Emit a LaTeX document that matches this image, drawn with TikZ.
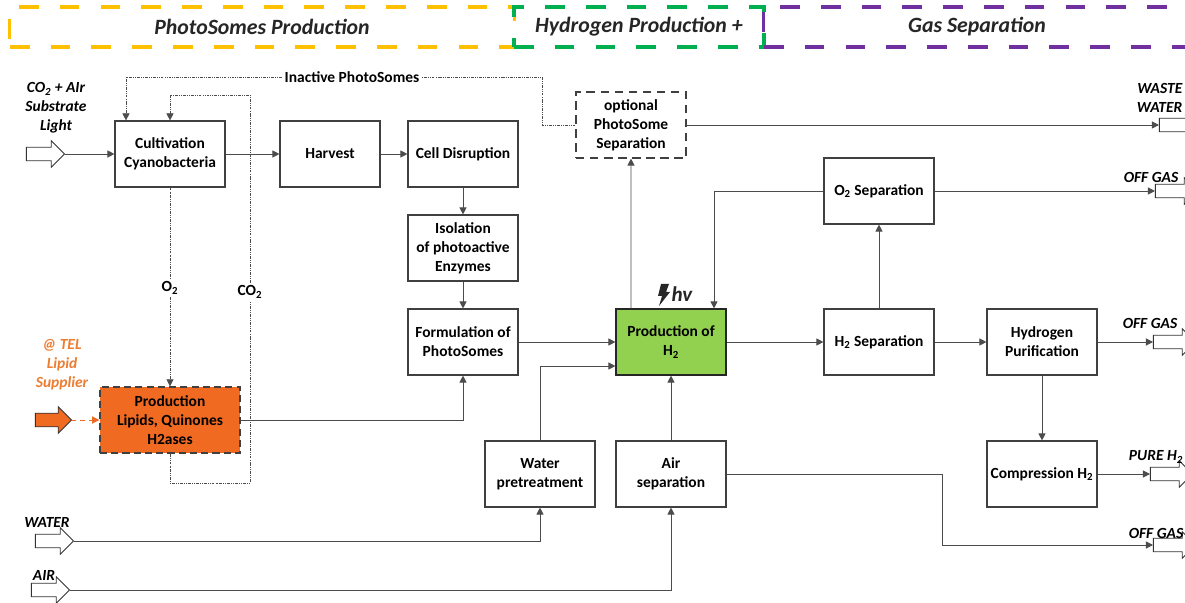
\documentclass[tikz,border=0pt]{standalone}
\usepackage{fontspec}
\setmainfont{Carlito}
\usepackage{tikz}
\usetikzlibrary{arrows.meta,shapes.arrows}
\definecolor{hyel}{RGB}{255,192,0}
\definecolor{hgrn}{RGB}{0,176,80}
\definecolor{hpur}{RGB}{112,48,160}
\definecolor{orng}{RGB}{240,106,34}
\definecolor{otxt}{RGB}{237,125,49}
\definecolor{lgrn}{RGB}{146,208,80}

\begin{document}
\begin{tikzpicture}[x=0.025cm,y=-0.025cm]

\tikzset{proc/.style = {draw=black!75, line width=0.8pt, fill=white, minimum width=2.75cm, minimum height=1.65cm, align=center, inner sep=1pt, font=\bfseries\fontsize{11}{13.5}\selectfont}}
\tikzset{edge/.style = {-{Triangle[length=5pt,width=5pt]}, draw=black!70, line width=0.7pt}}
\tikzset{recyc/.style = {draw=black!70, line width=0.5pt, dash pattern=on 2pt off 0.8pt on 0.6pt off 0.8pt on 0.6pt off 0.8pt}}
\tikzset{lbl/.style = {font=\bfseries\fontsize{11}{12}\selectfont, inner sep=2pt}}
\tikzset{ext/.style = {font=\bfseries\itshape\fontsize{11}{13.5}\selectfont, align=center, inner sep=1pt}}
\tikzset{inarr/.style = {single arrow, draw=black!80, fill=white, line width=0.6pt, inner xsep=0pt, inner ysep=0.16cm, single arrow head extend=0.16cm, minimum height=0.95cm}}
\tikzset{outarr/.style = {inarr, minimum height=1.05cm}}
\tikzset{hdr/.style = {line width=2.2pt, dash pattern=on 14pt off 15pt, minimum height=1cm, text=black!85, font=\bfseries\itshape\fontsize{15.5}{18}\selectfont}}
%\draw[help lines] (0,0) grid (1185,603);
\fill[white] (0,0) rectangle (1185,603);
\useasboundingbox (0,0) rectangle (1185,603);

\node[hdr, draw=hyel, minimum width=12.6cm] (t1) at (262,27) {PhotoSomes Production};
\node[hdr, draw=hgrn, minimum width=6.25cm] (t2) at (639,27) {Hydrogen Production +};
\node[hdr, draw=hpur, minimum width=10.65cm] (t3) at (977,27) {Gas Separation};

\node[proc] (cult) at (170,154) {Cultivation\\Cyanobacteria};
\node[proc, minimum width=2.5cm] (harv) at (330,154) {Harvest};
\node[proc] (disr) at (463,154) {Cell Disruption};
\node[proc] (isol) at (463,248) {Isolation\\of photoactive\\Enzymes};
\node[proc] (form) at (463,342) {Formulation of\\PhotoSomes};
\node[proc, fill=orng, dash pattern=on 5pt off 3pt, line width=1pt, minimum width=3.5cm] (lip) at (170,420) {Production\\Lipids, Quinones\\H2ases};
\node[proc, dash pattern=on 6pt off 4pt] (opt) at (631,125) {optional\\PhotoSome\\Separation};
\node[proc, fill=lgrn, draw=black!85] (hprod) at (671,342) {Production of\\H\textsubscript{2}};
\node[proc] (osep) at (879,191) {O\textsubscript{2} Separation};
\node[proc] (hsep) at (879,342) {H\textsubscript{2} Separation};
\node[proc] (puri) at (1042,342) {Hydrogen\\Purification};
\node[proc] (comp) at (1042,474) {Compression H\textsubscript{2}};
\node[proc] (wat) at (540,474) {Water\\pretreatment};
\node[proc] (air) at (671,474) {Air\\separation};

\node[inarr] (i1) at (42,154) {};
\node[ext] (l1) at (56,108) {CO\textsubscript{2} + AIr\\Substrate\\Light};
\node[inarr, fill=orng, minimum height=0.9cm] (i2) at (50,420) {};
\node[ext, text=otxt] (l2) at (62,365) {@ TEL\\Lipid\\Supplier};
\node[inarr] (i3) at (51,541) {};
\node[ext] (l3) at (47,522) {WATER};
\node[inarr] (i4) at (47,590) {};
\node[ext] (l4) at (44,575) {AIR};

\node[outarr] (o1) at (1177,125) {};
\node[ext, align=right, anchor=east] (m1) at (1184,98) {WASTE\\WATER};
\node[outarr] (o2) at (1173,191) {};
\node[ext] (m2) at (1151,177) {OFF GAS};
\node[outarr] (o3) at (1171,342) {};
\node[ext] (m3) at (1150,323) {OFF GAS};
\node[outarr] (o4) at (1168,474) {};
\node[ext] (m4) at (1156,457) {PURE H\textsubscript{2}};
\node[outarr] (o5) at (1171,545) {};
\node[ext] (m5) at (1156,533) {OFF GAS};

\node[lbl] (o2l) at (170,288) {O\textsubscript{2}};
\node[lbl] (co2l) at (250,292) {CO\textsubscript{2}};
\node[lbl] (inact) at (352,77) {Inactive PhotoSomes};
\coordinate (c1) at (542,77);
\coordinate (c2) at (250,483);
\coordinate (c3) at (250,95);
\coordinate (c4) at (942,545);

\fill[black!85] (661,284) -- (669,284) -- (666,292) -- (670,292) -- (659,306) -- (662,296) -- (658,296) -- cycle;
\node[font=\bfseries\itshape\fontsize{15}{18}\selectfont, text=black!85] (hv) at (682,294) {hv};

\draw[edge] (i1.tip) -- (cult);
\draw[edge] (cult) -- (harv);
\draw[edge] (harv) -- (disr);
\draw[edge] (disr) -- (isol);
\draw[edge] (isol) -- (form);
\draw[edge] (form) -- (hprod);
\draw[edge] (lip) -| (form);
\draw[edge] (wat) |- ([yshift=-0.6cm]hprod.west);
\draw[edge] (air) -- (hprod);
\draw[edge] (i3.tip) -| (wat);
\draw[edge] (i4.tip) -| (air);
\draw[edge] (air) -| (c4) -- (o5.tail);
\draw[edge] ([xshift=-1cm]hprod.north) -- (opt);
\draw[edge] (osep) -| ([xshift=1.075cm]hprod.north);
\draw[edge] (hprod) -- (hsep);
\draw[edge] (hsep) -- (osep);
\draw[edge] (hsep) -- (puri);
\draw[edge] (puri) -- (comp);
\draw[edge] (osep) -- (o2.tail);
\draw[edge] (puri) -- (o3.tail);
\draw[edge] (comp) -- (o4.tail);
\draw[edge] (opt) -- (o1.tail);
\draw[edge, draw=orng, dashed, -{Triangle[length=5pt,width=5pt,fill=orng]}] (i2.tip) -- (lip);

\draw[recyc] (opt.west) -| (c1) -- (inact);
\draw[edge, recyc] (inact) -| ([xshift=-1.1cm]cult.north);
\draw[recyc] (cult) -- (o2l);
\draw[edge, recyc] (o2l) -- (lip);
\draw[recyc] (lip) |- (c2) -- (co2l);
\draw[edge, recyc] (co2l) -- (c3) -| (cult);
\end{tikzpicture}
\end{document}
